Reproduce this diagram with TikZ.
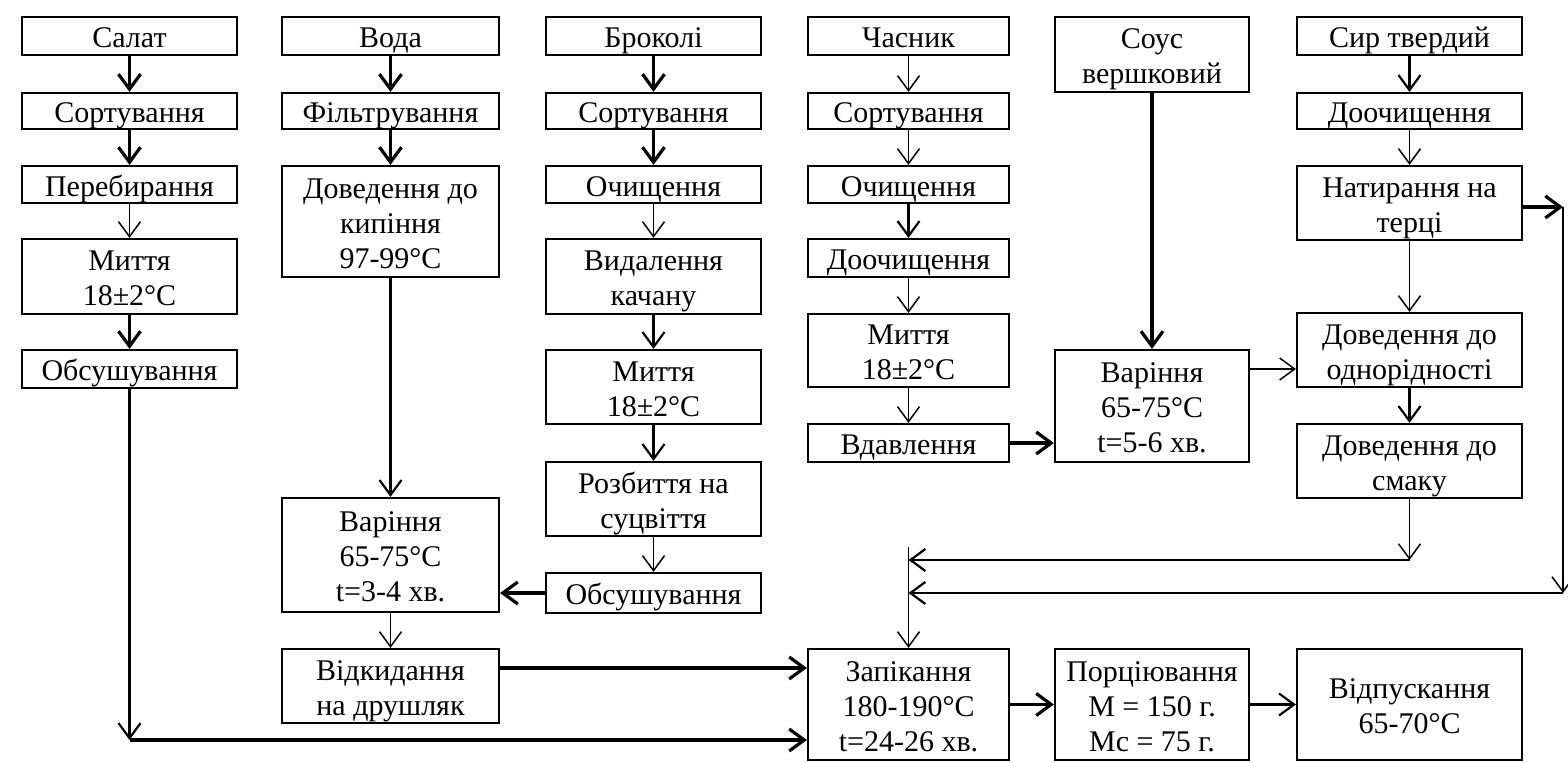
\documentclass[tikz,border=0pt]{standalone}
\usepackage{fontspec}
\setmainfont{Liberation Serif}
\usetikzlibrary{arrows.meta}
% fixed top and bottom struts so every box sets its text the same way
\newcommand\topstrut{\rule{0pt}{14.8pt}}
\newcommand\botstrut{\rule[-3pt]{0pt}{3pt}}
% process box given by its left, top, right and bottom edges (pixel grid)
\newcommand\procbox[6]{%
  \node[box,minimum width={(#4-#2)*0.5pt},minimum height={(#5-#3)*0.5pt}]
    (#1) at ({(#2+#4)/2},{(#3+#5)/2}) {\topstrut#6\botstrut};}
\begin{document}
\begin{tikzpicture}[x=0.5pt,y=-0.5pt,
  box/.style={draw,line width=1.1pt,inner sep=0pt,align=center,
    font=\fontsize{15}{17.5}\selectfont},
  tip/.style={-{Straight Barb[length=7.5pt,width=11pt]}},
  thk/.style={tip,line width=1.6pt},
  mid/.style={tip,line width=1.1pt},
  thn/.style={tip,line width=0.75pt}]
\useasboundingbox (0,0) rectangle (1568,763);
\fill[white] (0,0) rectangle (1568,763);

% lettuce
\procbox{A1}{22}{17}{237}{55}{Салат}
\procbox{A2}{22}{93}{237}{129}{Сортування}
\procbox{A3}{22}{166}{237}{203}{Перебирання}
\procbox{A4}{22}{239}{237}{314}{Миття\\18±2°C}
\procbox{A5}{22}{350}{237}{388}{Обсушування}

% water
\procbox{B1}{282}{17}{499}{55}{Вода}
\procbox{B2}{282}{93}{499}{129}{Фільтрування}
\procbox{B3}{282}{166}{499}{277}{Доведення до\\кипіння\\97-99°C}
\procbox{B4}{282}{498}{499}{612}{Варіння\\65-75°C\\t=3-4 хв.}
\procbox{B5}{282}{649}{499}{723}{Відкидання\\на друшляк}

% broccoli
\procbox{C1}{546}{17}{761}{55}{Броколі}
\procbox{C2}{546}{93}{761}{129}{Сортування}
\procbox{C3}{546}{166}{761}{203}{Очищення}
\procbox{C4}{546}{239}{761}{314}{Видалення\\качану}
\procbox{C5}{546}{350}{761}{424}{Миття\\18±2°C}
\procbox{C6}{546}{462}{761}{536}{Розбиття на\\суцвіття}
\procbox{C7}{546}{573}{761}{613}{Обсушування}

% garlic
\procbox{D1}{808}{17}{1009}{55}{Часник}
\procbox{D2}{808}{93}{1009}{129}{Сортування}
\procbox{D3}{808}{166}{1009}{203}{Очищення}
\procbox{D4}{808}{239}{1009}{277}{Доочищення}
\procbox{D5}{808}{314}{1009}{387}{Миття\\18±2°C}
\procbox{D6}{808}{424}{1009}{462}{Вдавлення}
\procbox{D7}{808}{649}{1009}{760}{Запікання\\180-190°C\\t=24-26 хв.}

% cream sauce
\procbox{E1}{1055}{17}{1249}{92}{Соус\\вершковий}
\procbox{E2}{1055}{350}{1249}{462}{Варіння\\65-75°C\\t=5-6 хв.}
\procbox{E3}{1055}{649}{1249}{760}{Порціювання\\M = 150 г.\\Mc = 75 г.}

% hard cheese
\procbox{F1}{1297}{17}{1522}{55}{Сир твердий}
\procbox{F2}{1297}{93}{1522}{129}{Доочищення}
\procbox{F3}{1297}{166}{1522}{240}{Натирання на\\терці}
\procbox{F4}{1297}{313}{1522}{387}{Доведення до\\однорідності}
\procbox{F5}{1297}{424}{1522}{498}{Доведення до\\смаку}
\procbox{F6}{1297}{649}{1522}{760}{Відпускання\\65-70°C}

% helper levels
\coordinate (yb) at (0,740);
\coordinate (yd) at (0,668);
\coordinate (yv) at (0,369);
\coordinate (ys) at (0,560);
\coordinate (yr) at (0,593);
\coordinate (yj) at (0,547);
\coordinate (rx) at (1563,207);
\coordinate (jtop) at (D7.north |- yj);

% lettuce chain
\draw[thk] (A1) -- (A2);
\draw[thk] (A2) -- (A3);
\draw[thn] (A3) -- (A4);
\draw[thk] (A4) -- (A5);
\draw[mid] (A5) -- (A5.south |- yb);
\draw[thk] (A5.south |- yb) -- (D7.west |- yb);

% water chain
\draw[thk] (B1) -- (B2);
\draw[thk] (B2) -- (B3);
\draw[mid] (B3) -- (B4);
\draw[thn] (B4) -- (B5);
\draw[thk] (B5.east |- yd) -- (D7.west |- yd);

% broccoli chain
\draw[thk] (C1) -- (C2);
\draw[thk] (C2) -- (C3);
\draw[thn] (C3) -- (C4);
\draw[mid] (C4) -- (C5);
\draw[mid] (C5) -- (C6);
\draw[thn] (C6) -- (C7);
\draw[thk] (C7) -- (B4.east |- C7);

% garlic chain
\draw[thn] (D1) -- (D2);
\draw[thn] (D2) -- (D3);
\draw[mid] (D3) -- (D4);
\draw[thn] (D4) -- (D5);
\draw[thn] (D5) -- (D6);
\draw[thk] (D6) -- (E2.west |- D6);

% sauce
\draw[thk] (E1) -- (E2);
\draw[thn] (E2.east |- yv) -- (F4.west |- yv);

% cheese chain
\draw[mid] (F1) -- (F2);
\draw[thn] (F2) -- (F3);
\draw[thn] (F3) -- (F4);
\draw[mid] (F4) -- (F5);
\draw[thk] (F3.east |- rx) -- (rx);
\draw[thn] (rx) -- (rx |- yr);
\draw[mid] (rx |- yr) -- (jtop |- yr);
\draw[thn] (F5) -- (F5.south |- ys);
\draw[mid] (F5.south |- ys) -- (jtop |- ys);
\draw[thn] (jtop) -- (D7);

% final steps
\draw[thk] (D7) -- (E3);
\draw[mid] (E3) -- (F6);
\end{tikzpicture}
\end{document}
